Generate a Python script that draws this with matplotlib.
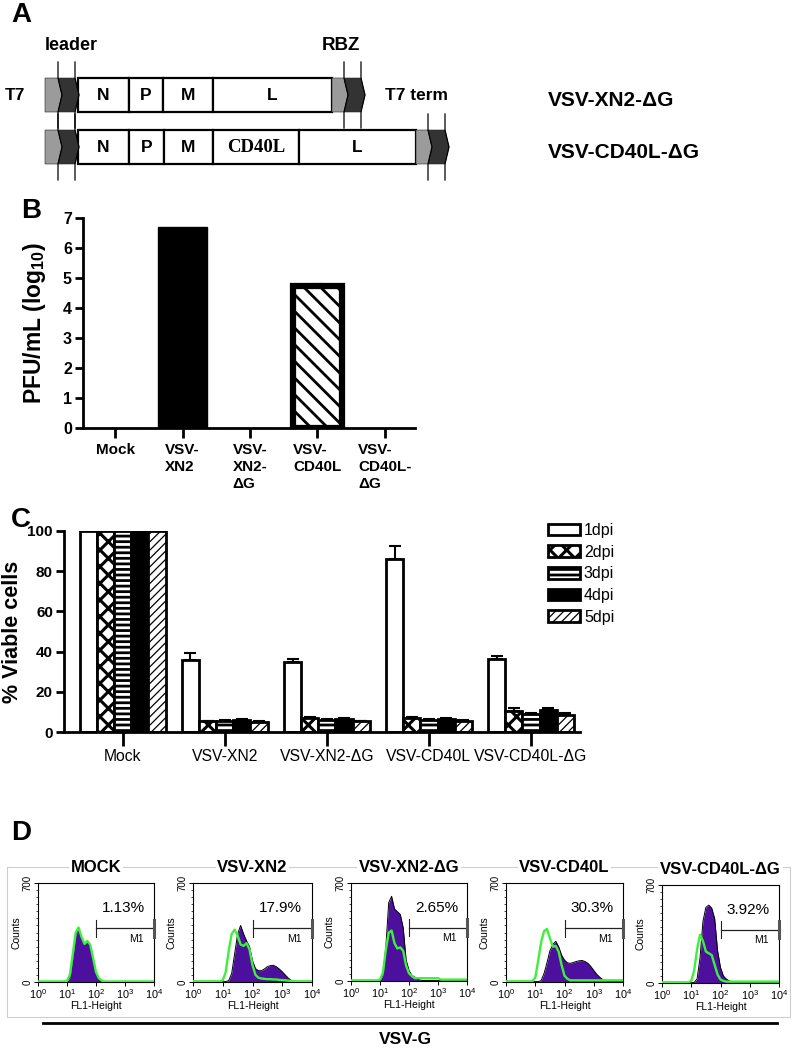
import matplotlib
matplotlib.use("Agg")
import matplotlib.pyplot as plt
import numpy as np
from matplotlib.patches import Polygon, Rectangle
from matplotlib.ticker import MultipleLocator, LogLocator, NullFormatter

W, H = 793, 1049
plt.rcParams['font.family'] = ['Liberation Sans', 'DejaVu Sans']
plt.rcParams['mathtext.fontset'] = 'custom'
plt.rcParams['mathtext.rm'] = 'Liberation Sans'
plt.rcParams['mathtext.bf'] = 'Liberation Sans:bold'
plt.rcParams['mathtext.it'] = 'Liberation Sans:italic'

# ---------------- Panel A data (schematic) ----------------
construct_names = ["VSV-XN2-ΔG", "VSV-CD40L-ΔG"]
construct_genes = [["N", "P", "M", "L"], ["N", "P", "M", "CD40L", "L"]]
construct_lengths = [[51, 34, 50, 119], [51, 35, 49, 86, 117]]

# ---------------- Panel B data ----------------
b_categories = ["Mock", "VSV-\nXN2", "VSV-\nXN2-\nΔG", "VSV-\nCD40L", "VSV-\nCD40L-\nΔG"]
b_titer = [0, 6.7, 0, 4.75, 0]
b_err = [0, 0, 0, 0.05, 0]

# ---------------- Panel C data ----------------
c_categories = ["Mock", "VSV-XN2", "VSV-XN2-ΔG", "VSV-CD40L", "VSV-CD40L-ΔG"]
c_days = ["1dpi", "2dpi", "3dpi", "4dpi", "5dpi"]
viable_1dpi = [100, 36, 35, 86, 36.5]
viable_2dpi = [100, 5.3, 6.9, 6.9, 10.5]
viable_3dpi = [100, 5.5, 6.0, 6.2, 9.0]
viable_4dpi = [100, 6.2, 6.7, 6.7, 11.0]
viable_5dpi = [100, 5.2, 5.3, 5.6, 8.5]
err_1dpi = [0, 3.5, 1.2, 6.3, 1.3]
err_2dpi = [0, 0.4, 0.5, 0.4, 1.2]
err_3dpi = [0, 0.4, 0.4, 0.4, 0.6]
err_4dpi = [0, 0.4, 0.4, 0.3, 0.8]
err_5dpi = [0, 0.3, 0.3, 0.3, 1.1]

# ---------------- Panel D data ----------------
d_titles = ["MOCK", "VSV-XN2", "VSV-XN2-ΔG", "VSV-CD40L", "VSV-CD40L-ΔG"]
d_percent = ["1.13%", "17.9%", "2.65%", "30.3%", "3.92%"]
flow_log_bins = [0.0, 0.1, 0.2, 0.3, 0.4, 0.5, 0.6, 0.7, 0.8, 0.9,
                 1.0, 1.1, 1.2, 1.3, 1.4, 1.5, 1.6, 1.7, 1.8, 1.9,
                 2.0, 2.1, 2.2, 2.3, 2.4, 2.5, 2.6, 2.7, 2.8, 2.9,
                 3.0, 3.1, 3.2, 3.3, 3.4, 3.5, 3.6, 3.7, 3.8, 3.9, 4.0]
mock_stained = [3, 3, 3, 3, 3, 3, 3, 3, 3, 3,
                5, 30, 170, 330, 375, 320, 265, 285, 260, 160,
                60, 15, 6, 3, 3, 3, 3, 3, 3, 3,
                3, 3, 3, 3, 3, 3, 3, 3, 3, 3, 3]
mock_control = [4, 4, 4, 4, 4, 4, 4, 4, 4, 4,
                8, 50, 200, 350, 385, 320, 270, 290, 265, 170,
                70, 25, 10, 4, 4, 4, 4, 4, 4, 4,
                4, 4, 4, 4, 4, 4, 4, 4, 4, 4, 4]
xn2_stained = [3, 3, 3, 3, 3, 3, 3, 3, 3, 3,
               3, 3, 10, 60, 200, 340, 400, 340, 290, 250,
               150, 95, 80, 80, 92, 108, 116, 118, 108, 92,
               72, 50, 28, 12, 6, 3, 3, 3, 3, 3, 3]
xn2_control = [5, 5, 5, 5, 5, 5, 5, 5, 5, 5,
               12, 70, 220, 340, 370, 330, 265, 255, 275, 230,
               120, 50, 30, 25, 22, 20, 20, 18, 18, 15,
               14, 12, 10, 8, 5, 5, 5, 5, 5, 5, 5]
xn2dg_stained = [3, 3, 3, 3, 3, 3, 3, 3, 3, 3,
                 3, 40, 240, 560, 605, 515, 495, 475, 380, 150,
                 75, 40, 28, 12, 6, 3, 3, 3, 3, 3,
                 3, 3, 3, 3, 3, 3, 3, 3, 3, 3, 3]
xn2dg_control = [5, 5, 5, 5, 5, 5, 5, 5, 5, 5,
                 10, 60, 220, 345, 360, 270, 232, 240, 215, 110,
                 55, 35, 20, 20, 20, 20, 20, 20, 20, 20,
                 20, 10, 10, 10, 10, 10, 10, 10, 10, 10, 10]
cd40l_stained = [3, 3, 3, 3, 3, 3, 3, 3, 3, 3,
                 3, 3, 10, 60, 135, 220, 265, 288, 250, 190,
                 155, 135, 132, 138, 145, 150, 152, 145, 132, 110,
                 82, 55, 35, 18, 7, 3, 3, 3, 3, 3, 3]
cd40l_control = [5, 5, 5, 5, 5, 5, 5, 5, 5, 5,
                 30, 150, 280, 360, 375, 310, 250, 255, 215, 120,
                 45, 22, 12, 12, 12, 12, 12, 12, 12, 12,
                 12, 12, 12, 12, 12, 12, 12, 12, 12, 12, 12]
cd40ldg_stained = [3, 3, 3, 3, 3, 3, 3, 3, 3, 3,
                   3, 3, 30, 180, 440, 540, 556, 535, 460, 230,
                   110, 50, 28, 15, 7, 3, 3, 3, 3, 3,
                   3, 3, 3, 3, 3, 3, 3, 3, 3, 3, 3]
cd40ldg_control = [5, 5, 5, 5, 5, 5, 5, 5, 5, 5,
                   15, 90, 240, 345, 300, 225, 212, 200, 130, 60,
                   25, 15, 10, 10, 10, 10, 10, 10, 10, 10,
                   10, 10, 10, 10, 10, 10, 10, 10, 10, 10, 10]

fig = plt.figure(figsize=(W / 100, H / 100), dpi=100)


def px_axes(x0, y0, x1, y1):
    return fig.add_axes([x0 / W, 1 - y1 / H, (x1 - x0) / W, (y1 - y0) / H])


def set_hlw(artist, lw):
    if hasattr(artist, "set_hatch_linewidth"):
        artist.set_hatch_linewidth(lw)


# overlay axes in pixel coordinates for schematic + labels
ov = fig.add_axes([0, 0, 1, 1])
ov.set_xlim(0, W)
ov.set_ylim(H, 0)
ov.axis('off')

# panel letters
for letter, (lx, ly) in zip("ABCD", [(21, 15), (31, 211), (21, 520), (21, 833)]):
    ov.text(lx, ly, letter, fontsize=20, fontweight='bold', ha='center', va='center')

# ---------------- Panel A ----------------
GRAY = '#9b9b9b'
DARK = '#333333'
row_tops = [78, 130]
row_h = 34
tip = 4
ext = 16


def cap_box(xl, w, y0, y1, color, concave):
    ym = (y0 + y1) / 2
    xr = xl + w
    pts = [(xl, y0), (xr, y0), (xr + tip, ym), (xr, y1), (xl, y1)]
    if concave:
        pts.append((xl + tip, ym))
    ov.add_patch(Polygon(pts, closed=True, fc=color, ec='#222222', lw=0.4, zorder=3))
    ov.plot([xr, xr, xr + tip, xr, xr], [y0 - ext, y0, ym, y1, y1 + ext],
            color='black', lw=0.9, zorder=4, solid_joinstyle='miter')


for r, (genes, lens) in enumerate(zip(construct_genes, construct_lengths)):
    y0 = row_tops[r]
    y1 = y0 + row_h
    cap_box(45, 13, y0, y1, GRAY, False)
    cap_box(58, 17, y0, y1, DARK, True)
    x = 78
    for g, L in zip(genes, lens):
        ov.add_patch(Rectangle((x, y0), L, row_h, fc='white', ec='black', lw=1.6, zorder=2))
        if g == "CD40L":
            ov.text(x + L / 2, y0 + row_h / 2 + 1, g, fontsize=13.5, fontweight='bold',
                    family='Liberation Serif', ha='center', va='center', zorder=5)
        else:
            ov.text(x + L / 2, y0 + row_h / 2 + 1, g, fontsize=12.5, fontweight='bold',
                    ha='center', va='center', zorder=5)
        x += L
    cap_box(x, 12, y0, y1, GRAY, False)
    cap_box(x + 12, 17, y0, y1, DARK, True)
    ov.text(548, y0 + row_h / 2 + 5, construct_names[r], fontsize=15, fontweight='bold',
            ha='left', va='center')

ov.text(5, 96, "T7", fontsize=12.5, fontweight='bold', ha='left', va='center')
ov.text(71, 45, "leader", fontsize=13, fontweight='bold', ha='center', va='center')
ov.text(341, 45, "RBZ", fontsize=13.5, fontweight='bold', ha='center', va='center')
ov.text(385, 96, "T7 term", fontsize=12.5, fontweight='bold', ha='left', va='center')

# ---------------- Panel B ----------------
axb = px_axes(83, 218, 415, 428)
xb = np.arange(len(b_categories))
bars_b = axb.bar(xb, b_titer, width=0.72, color='black', edgecolor='black', lw=1, zorder=2)
bars_b[3].set_facecolor('white')
bars_b[3].set_hatch('\\\\')
bars_b[3].set_linewidth(4.5)
set_hlw(bars_b[3], 2.0)
eb_idx = [i for i, e in enumerate(b_err) if e > 0]
axb.errorbar([xb[i] for i in eb_idx], [b_titer[i] for i in eb_idx],
             yerr=[[0] * len(eb_idx), [b_err[i] for i in eb_idx]], fmt='none',
             ecolor='black', elinewidth=1.5, capsize=4, capthick=1.5, zorder=3)
axb.set_xlim(-0.48, 4.45)
axb.set_ylim(0, 7)
axb.set_yticks(range(0, 8))
axb.set_xticks(xb)
axb.set_xticklabels(b_categories, fontsize=11, fontweight='bold', va='top', linespacing=1.25)
for lbl in axb.get_xticklabels():
    lbl.set_multialignment('left')
for lbl in axb.get_yticklabels():
    lbl.set_fontweight('bold')
    lbl.set_fontsize(11.5)
axb.tick_params(axis='y', length=6, width=2, pad=2)
axb.tick_params(axis='x', length=7, width=2, pad=4)
for s in ['top', 'right']:
    axb.spines[s].set_visible(False)
for s in ['left', 'bottom']:
    axb.spines[s].set_linewidth(2)
axb.set_ylabel(r"PFU/mL (log$_{\mathbf{10}}$)", fontsize=16.5, fontweight='bold', labelpad=11)

# ---------------- Panel C ----------------
axc = px_axes(64, 531, 580, 732)
xc = np.arange(len(c_categories))
c_values = [viable_1dpi, viable_2dpi, viable_3dpi, viable_4dpi, viable_5dpi]
c_errors = [err_1dpi, err_2dpi, err_3dpi, err_4dpi, err_5dpi]
c_face = ['white', 'white', 'white', 'black', 'white']
c_hatch = [None, 'xx', '---', None, '////']
c_hlw = [1, 2.2, 2.0, 1, 0.9]
bw = 0.168
handles = []
for j, (day, vals, errs) in enumerate(zip(c_days, c_values, c_errors)):
    pos = xc + (j - 2) * bw
    bc = axc.bar(pos, vals, width=bw, color=c_face[j], edgecolor='black', lw=2,
                 hatch=c_hatch[j], label=day, zorder=2)
    for p in bc:
        set_hlw(p, c_hlw[j])
    handles.append(bc)
    idx = [i for i, e in enumerate(errs) if e > 0]
    axc.errorbar([pos[i] for i in idx], [vals[i] for i in idx],
                 yerr=[[0] * len(idx), [errs[i] for i in idx]], fmt='none',
                 ecolor='black', elinewidth=1.5, capsize=4, capthick=1.5, zorder=3)
axc.set_xlim(-0.575, 4.48)
axc.set_ylim(0, 100)
axc.set_yticks(range(0, 101, 20))
axc.set_xticks(xc)
axc.set_xticklabels(c_categories, fontsize=11.3)
for lbl in axc.get_yticklabels():
    lbl.set_fontweight('bold')
    lbl.set_fontsize(11)
axc.tick_params(axis='y', length=6, width=2, pad=2)
axc.tick_params(axis='x', length=10, width=2, pad=2)
for s in ['top', 'right']:
    axc.spines[s].set_visible(False)
for s in ['left', 'bottom']:
    axc.spines[s].set_linewidth(2)
axc.set_ylabel("% Viable cells", fontsize=15.5, fontweight='bold', labelpad=3)
leg = axc.legend(handles=handles, loc='upper left', bbox_to_anchor=(548 / W, 1 - 523 / H),
                 bbox_transform=fig.transFigure, frameon=False, fontsize=11.5,
                 handlelength=2.0, handleheight=0.75, handletextpad=0.25,
                 labelspacing=0.42, borderpad=0, borderaxespad=0)
for p, hl in zip(leg.get_patches(), c_hlw):
    set_hlw(p, hl)

# ---------------- Panel D ----------------
PURPLE = '#4d0f9e'
GREEN = '#3cf03c'
ov.add_patch(Rectangle((7, 867), 783, 150, fill=False, ec='#cfcfcf', lw=0.8, zorder=1))
ov.plot([43, 777], [1023, 1023], color='black', lw=2, zorder=2)
ov.text(405, 1040, "VSV-G", fontsize=12.5, fontweight='bold', ha='center', va='center')

d_boxes = [(38, 883, 154, 982), (193, 883, 312, 982), (351, 883, 467, 981),
           (506, 883, 623, 982), (662, 885, 779, 983)]
stained = [mock_stained, xn2_stained, xn2dg_stained, cd40l_stained, cd40ldg_stained]
controls = [mock_control, xn2_control, xn2dg_control, cd40l_control, cd40ldg_control]
xs = np.power(10.0, flow_log_bins)
for i, (x0, y0, x1, y1) in enumerate(d_boxes):
    ax = px_axes(x0, y0, x1, y1)
    ax.fill_between(xs, 0, stained[i], color=PURPLE, lw=0, zorder=2)
    ax.plot(xs, stained[i], color='black', lw=0.7, zorder=3)
    ax.plot(xs, controls[i], color=GREEN, lw=1.7, zorder=4)
    ax.set_xscale('log')
    ax.set_xlim(1, 1e4)
    ax.set_ylim(0, 700)
    ax.set_yticks([0, 700])
    ax.set_yticklabels(['0', '700'], rotation=90, va='center', fontsize=7)
    ax.yaxis.set_minor_locator(MultipleLocator(50))
    ax.set_xticks([1, 10, 100, 1000, 10000])
    ax.set_xticklabels([r'$10^{0}$', r'$10^{1}$', r'$10^{2}$', r'$10^{3}$', r'$10^{4}$'], fontsize=7.8)
    ax.xaxis.set_minor_locator(LogLocator(base=10, subs=(2, 3, 4, 5, 6, 7, 8, 9)))
    ax.xaxis.set_minor_formatter(NullFormatter())
    ax.tick_params(which='major', length=3, width=0.7, pad=1)
    ax.tick_params(which='minor', length=1.5, width=0.5)
    for s in ax.spines.values():
        s.set_linewidth(0.8)
    ax.set_ylabel("Counts", fontsize=7.5, labelpad=1)
    ax.set_xlabel("FL1-Height", fontsize=7.5, labelpad=0)
    ax.plot([100, 1e4], [380, 380], color='#222222', lw=0.9, zorder=5)
    ax.plot([100, 100], [320, 440], color='#222222', lw=0.8, zorder=5)
    ax.plot([1e4, 1e4], [320, 440], color='#555555', lw=2.2, zorder=5, clip_on=False)
    ax.text(10 ** 2.95, 520, d_percent[i], ha='center', va='center', fontsize=11)
    ax.text(10 ** 3.4, 305, "M1", ha='center', va='center', fontsize=7.5)
    ov.text((x0 + x1) / 2, y0 - 16, d_titles[i], fontsize=12, fontweight='bold',
            ha='center', va='center', zorder=6,
            bbox=dict(boxstyle='square,pad=0.1', fc='white', ec='none'))

fig.savefig("out.png", dpi=100)
